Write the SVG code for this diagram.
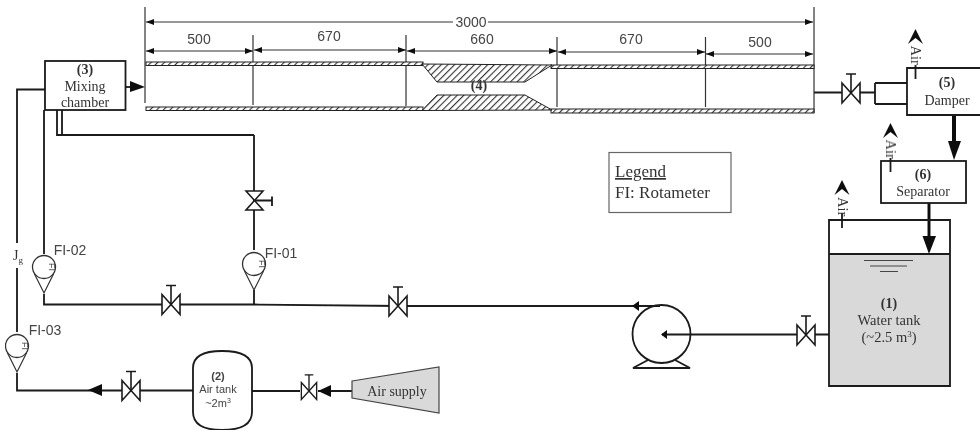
<svg xmlns="http://www.w3.org/2000/svg" width="980" height="431" viewBox="0 0 980 431">
<style>
.p{fill:none;stroke:#1a1a1a;stroke-width:1.8}
.box{fill:#fff;stroke:#1a1a1a;stroke-width:1.8}
.ah{fill:#111;stroke:none}
.s{font-family:"Liberation Serif",serif;fill:#333;text-anchor:middle}
.a{font-family:"Liberation Sans",sans-serif;fill:#444;text-anchor:middle}
.b{font-weight:bold}
.hatch{fill:url(#h);stroke:#222;stroke-width:1}
</style>
<defs>
<filter id="soft" x="0" y="0" width="100%" height="100%"><feGaussianBlur stdDeviation="0.35"/></filter>
<pattern id="h" width="4.700" height="4.700" patternUnits="userSpaceOnUse" patternTransform="rotate(45)"><rect width="4.700" height="4.700" fill="#fff"/><rect width="1.100" height="4.700" fill="#333"/></pattern>
<g id="vu"><path d="M-9,-10 L9,10 V-10 L-9,10 Z" fill="#fff" stroke="#1a1a1a" stroke-width="1.600"/><path d="M0,0 V-19 M-5,-19 H5" fill="none" stroke="#1a1a1a" stroke-width="1.600"/></g>
<g id="air"><path d="M0,-15 L7.500,0 L0,-6 L-7.500,0 Z" fill="#111"/></g>
<g id="fi"><path d="M-9.500,7 L0,26 L9.500,7" fill="#fff" stroke="#333" stroke-width="1.200"/><circle r="11.500" fill="#fff" stroke="#333" stroke-width="1.300"/><text transform="translate(5,0) rotate(90)" font-size="9" class="a">FI</text></g>
</defs>
<rect width="980" height="431" fill="#fff"/>
<g filter="url(#soft)">
<g id="connectors">
<path class="p" d="M45,89.500 H17 V243 M17,268 V332 M17,373 V390.500 H120"/>
<path class="ah" d="M88,390 L102,384 V396 Z"/>
<path class="p" d="M120,390.500 H193 M252,391 H300 M318,391 H352"/>
<path class="ah" d="M318,391 L331,385 V397 Z"/>
<path class="p" d="M44,110 V254 M44,294 V304.500 H254 L400,306 H660"/>
<path class="ah" d="M632,306 L639,301 V311 Z"/>
<path class="p" d="M254,290 V305 M254,135 V250 M57,110 V135 H254 M62,110 V135"/>
<path class="p" d="M662,334.500 H830"/>
<path class="ah" d="M661,334.500 L667,330 V339 Z"/>
<path class="p" d="M814,92.500 H875"/>
<path class="p" d="M875,83 H907 M875,104 H907 M875,83 V104"/>
<path d="M126,87 H135" class="p"/>
<path class="ah" d="M145,87 L130,81 V92 Z"/>
<path d="M954,115 V145" stroke="#111" stroke-width="4" fill="none"/>
<path class="ah" d="M954,160 L948,141 H961 Z"/>
<path d="M929,203 V240" stroke="#111" stroke-width="3" fill="none"/>
<path class="ah" d="M929,254 L922.500,236 H936 Z"/>
</g>
<g id="dimensions" stroke="#333" stroke-width="1.200" fill="none">
<path d="M145,7 V103 M814,7 V113 M253,35 V105 M406,35 V106 M557,37 V107 M705.500,37 V107"/>
<path d="M146,22 H453 M488,22 H813 M146,51 H253 M254,50 H406 M407,51 H557 M558,52 H705 M706,54 H813"/>
<g fill="#111" stroke="none">
<path d="M146,22 l8,-3 v6z M813,22 l-8,-3 v6z"/>
<path d="M146,51 l8,-3 v6z M253,51 l-8,-3 v6z M254,50 l8,-3 v6z M406,50 l-8,-3 v6z M407,51 l8,-3 v6z M557,51 l-8,-3 v6z M558,52 l8,-3 v6z M705,52 l-8,-3 v6z M706,54 l8,-3 v6z M813,54 l-8,-3 v6z"/>
</g>
</g>
<g id="dim-labels" font-size="14">
<text class="a" x="471" y="27">3000</text>
<text class="a" x="199" y="44">500</text>
<text class="a" x="329" y="41">670</text>
<text class="a" x="482" y="44">660</text>
<text class="a" x="631" y="44">670</text>
<text class="a" x="760" y="47">500</text>
</g>
<g id="test-section">
<rect class="hatch" x="146" y="62" width="277" height="3.500"/>
<rect class="hatch" x="146" y="107" width="277" height="3.500"/>
<rect class="hatch" x="551" y="65" width="263" height="3.500"/>
<rect class="hatch" x="551" y="109" width="263" height="4"/>
<path class="hatch" d="M422,64 L437,82 H525 L552,65 Z"/>
<path class="hatch" d="M422,110.500 L437,95 H525 L552,110 Z"/>
<text class="s b" x="479" y="90" font-size="14">(4)</text>
</g>
<g id="mixing-chamber">
<rect class="box" x="45" y="61" width="80.500" height="49"/>
<text class="s b" x="85" y="74" font-size="14">(3)</text>
<text class="s" x="85" y="91" font-size="14">Mixing</text>
<text class="s" x="85" y="107" font-size="14">chamber</text>
</g>
<g id="jg"><text class="s" x="18" y="260" font-size="14">J<tspan font-size="9" dy="3">g</tspan></text></g>
<g id="fi-03"><use href="#fi" x="17" y="346"/><text class="a" x="45" y="335" font-size="14">FI-03</text></g>
<g id="fi-02"><use href="#fi" x="44" y="267"/><text class="a" x="70" y="255" font-size="14">FI-02</text></g>
<g id="fi-01"><use href="#fi" x="254" y="264"/><text class="a" x="281" y="258" font-size="14">FI-01</text></g>
<g id="valve-1"><use href="#vu" x="131" y="390.500"/></g>
<g id="valve-2"><use href="#vu" transform="translate(309,391) scale(.85)"/></g>
<g id="valve-3"><use href="#vu" x="171" y="304.500"/></g>
<g id="valve-4"><use href="#vu" x="398" y="306"/></g>
<g id="valve-5"><use href="#vu" x="806" y="335"/></g>
<g id="valve-6"><use href="#vu" x="851" y="93"/></g>
<g id="valve-7"><path d="M246,191 L263,210 H246 L263,191 Z" fill="#fff" stroke="#1a1a1a" stroke-width="1.600"/><path d="M254.500,200.500 H272 M272,196.500 V206" class="p"/></g>
<g id="air-tank">
<path class="box" d="M193,368 Q193,351 222,351 Q252,351 252,368 V412 Q252,430 222,430 Q193,430 193,412 Z"/>
<text class="a b" x="218" y="380" font-size="11">(2)</text>
<text class="a" x="218" y="393" font-size="11">Air tank</text>
<text class="a" x="218" y="407" font-size="11">~2m<tspan font-size="7" dy="-4">3</tspan></text>
</g>
<g id="air-supply">
<path d="M352,381 L439,367 V413 L352,398 Z" fill="#d9d9d9" stroke="#444" stroke-width="1.200"/>
<text class="s" x="397" y="396" font-size="14">Air supply</text>
</g>
<g id="pump">
<circle class="p" cx="661.500" cy="334" r="29"/>
<path class="p" d="M648,360 L633,368 H690 L675,360"/>
</g>
<g id="water-tank">
<rect x="829" y="254" width="121" height="132" fill="#d9d9d9"/>
<path class="p" d="M829,254 V386 H950 V220 H829 V254 H950"/>
<path stroke="#444" stroke-width="1.200" d="M864,260.500 H913 M870,266 H907 M880,271.500 H898"/>
<text class="s b" x="889" y="308" font-size="14">(1)</text>
<text class="s" x="889" y="325" font-size="14.500">Water tank</text>
<text class="s" x="889" y="342" font-size="14.500">(~2.5 m<tspan font-size="9" dy="-5">3</tspan><tspan dy="5">)</tspan></text>
<use href="#air" x="842" y="195"/>
<path class="p" d="M842,213 V228"/>
<text class="s" transform="translate(837.500,197) rotate(90)" font-size="14.500" style="text-anchor:start">Air</text>
</g>
<g id="damper">
<path class="box" d="M981,68 H907 V115 H981"/>
<text class="s b" x="947" y="87" font-size="14">(5)</text>
<text class="s" x="947" y="105" font-size="14">Damper</text>
<use href="#air" x="915.500" y="44"/>
<path class="p" d="M915.500,65 V79"/>
<text class="s" transform="translate(911,45.500) rotate(90)" font-size="14.500" style="text-anchor:start">Air</text>
</g>
<g id="separator">
<rect class="box" x="881" y="161" width="85" height="42"/>
<text class="s b" x="923" y="179" font-size="14">(6)</text>
<text class="s" x="923" y="196" font-size="14">Separator</text>
<use href="#air" x="890.500" y="138"/>
<path class="p" d="M890.500,158 V172"/>
<text class="s" transform="translate(886,139.500) rotate(90)" font-size="14.500" style="text-anchor:start">Air</text>
</g>
<g id="legend">
<rect x="609" y="152.500" width="122" height="60" fill="#fff" stroke="#666" stroke-width="1.200"/>
<text class="s" x="615" y="177" font-size="17" text-decoration="underline" style="text-anchor:start">Legend</text>
<text class="s" x="615" y="198" font-size="17" style="text-anchor:start">FI: Rotameter</text>
</g>
</g>
</svg>
